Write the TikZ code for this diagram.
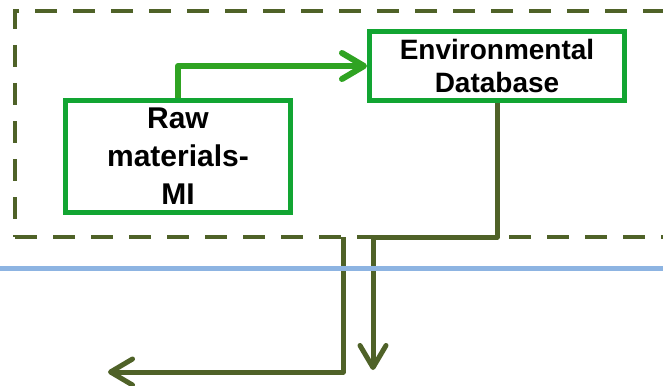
\documentclass[tikz,border=0pt]{standalone}
\usepackage{fontspec}
\setmainfont{Liberation Sans}
\usetikzlibrary{arrows.meta}
\definecolor{boxgreen}{HTML}{12A532}
\definecolor{arrgreen}{HTML}{2FA322}
\definecolor{olive}{HTML}{4F6228}
\definecolor{skyline}{HTML}{8DB4E2}
\tikzset{
  greenbox/.style={draw=boxgreen, line width=5pt, fill=white, inner sep=0pt, align=center},
  frame/.style={draw=olive, line width=4.5pt, dash pattern=on 22pt off 16pt, inner sep=0pt},
  barb/.style={-{Straight Barb[length=22pt,width=26pt,line cap=round,line join=round]}},
  oliveline/.style={draw=olive, line width=5pt, line join=round},
  greenline/.style={draw=arrgreen, line width=6pt, line join=round},
  sep/.style={draw=skyline, line width=5pt}
}
\begin{document}
\begin{tikzpicture}[x=1pt,y=-1pt]
\useasboundingbox (0,0) rectangle (663,385);
\begin{scope}
\clip (0,0) rectangle (663,385);
\node[frame, minimum width=687pt, minimum height=226pt] (frame) at (358.5,124) {};
\end{scope}
\node[greenbox, minimum width=225pt, minimum height=112pt,
      font=\fontsize{30}{38}\selectfont\bfseries] (raw) at (178,156.5)
  {Raw\\materials-\\MI};
\node[greenbox, minimum width=255pt, minimum height=69pt,
      font=\fontsize{28}{33}\selectfont\bfseries] (env) at (497,66)
  {Environmental\\Database};
\coordinate (j) at (373,237);
\coordinate (e) at (373,370);
\coordinate (s) at (343,237);
\coordinate (c) at (343,372);
\coordinate (t) at (108,372);
\coordinate (bl) at (0,268);
\coordinate (br) at (663,268);
\draw[greenline, barb] (raw.north) |- (env.west);
\draw[oliveline, barb] (env.south) |- (j) -- (e);
\draw[oliveline, barb] (s) -- (c) -- (t);
\draw[sep] (bl) -- (br);
\end{tikzpicture}
\end{document}
